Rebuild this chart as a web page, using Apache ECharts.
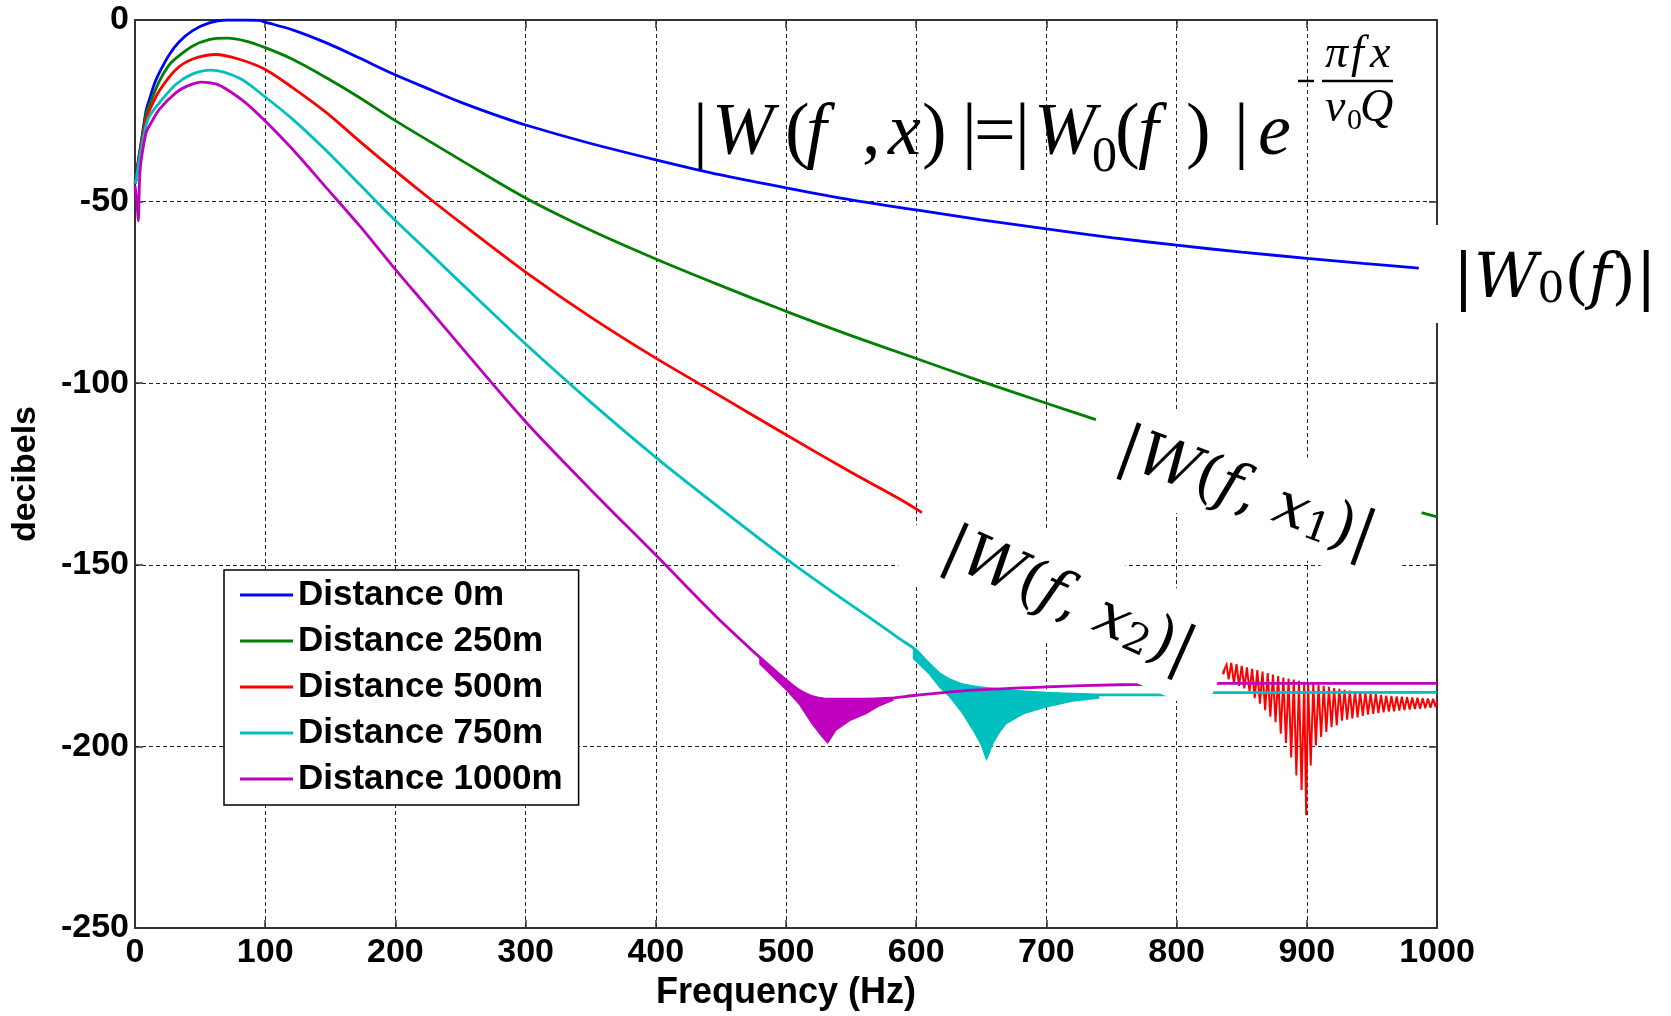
<!DOCTYPE html>
<html>
<head>
<meta charset="utf-8">
<script src="https://cdn.jsdelivr.net/npm/echarts@6/dist/echarts.min.js"></script>
<style>
  html, body { margin: 0; padding: 0; background: #fff; }
  #chart { width: 1671px; height: 1016px; }
</style>
</head>
<body>
<div id="chart"></div>
<script>
// Amplitude spectra of an attenuated wavelet, in dB, at five propagation distances.
// Each array holds [frequency (Hz), level (dB)]; '-' marks a break in the trace.

const seriesNames = ['Distance 0m', 'Distance 250m', 'Distance 500m', 'Distance 750m', 'Distance 1000m'];
const seriesColors = ['#0000FF', '#008000', '#FF0000', '#00BFBF', '#BF00BF'];

const dist0m = [[0,-45],[1,-43],[2,-40],[4.6,-34],[8.5,-25],[11,-22],[15,-17.5],[18.7,-14.5],[26.4,-9.5],[34,-6],[44,-3],[57,-0.8],[70,0],[85,0],[95,-0.1],[100,-0.6],[121,-2.7],[147,-6.3],[172,-10.4],[198,-14.8],[225,-18.9],[250,-22.6],[275,-25.9],[300,-28.9],[350,-34],[400,-38.5],[449,-42.6],[500,-46.2],[550,-49.5],[600,-52.3],[650,-55],[700,-57.5],[750,-59.9],[800,-62],[850,-63.9],[900,-65.6],[943,-67],[986,-68.3]];

const dist250m = [[0,-45],[1,-43.5],[2,-40.5],[4.6,-34.5],[8.5,-26],[11,-23.5],[18.7,-16.8],[26,-12.5],[31.5,-10.5],[44,-7.2],[57,-5.4],[71,-5],[85,-5.8],[100,-7.6],[121,-10.8],[147,-15.9],[172.6,-21.4],[198,-27.3],[250,-38.5],[300,-49],[350,-57.9],[400,-65.8],[449,-73],[500,-80.2],[550,-86.9],[600,-93.2],[650,-99.5],[700,-105.5],[738,-110],[850,'-'],[986,-135.4],[1000,-136.8]];

const dist500m = [[0,-45],[1,-44],[2,-41],[4.6,-35],[8.5,-27.5],[11,-25],[18.7,-19.5],[31.5,-13.6],[44,-10.8],[62,-9.5],[80,-10.8],[100,-13.6],[121,-18.6],[147,-25.5],[172.6,-33.4],[198,-41],[225,-48.8],[250,-55.8],[300,-69.4],[350,-81.8],[400,-93.1],[449,-103.4],[500,-114.2],[550,-124.5],[587,-131.8],[605.8,-135.9]];

// ringing of the 500 m trace above 830 Hz: alternating crest / trough readings
const dist500mTail = [[834,-176.2],[836,-180.1],[838,-176.6],[840,-181.5],[842,-177],[844,-182.5],[846,-177.3],[848,-183.3],[850,-177.8],[852,-184],[854,-178.2],[856,-184.8],[858,-178.6],[860,-186.7],[862,-179],[864,-188.2],[866,-179.4],[868,-190],[870,-179.8],[872,-191.8],[874,-180.2],[876,-193.3],[878,-180.6],[880,-196.5],[882,-181],[884,-199],[886,-181.3],[888,-203],[890,-181.6],[892,-208],[894,-181.9],[896,-212],[898,-182.2],[899.5,-218.9],[901,-182.4],[903,-205.2],[905,-182.7],[907,-199.7],[909,-183],[911,-197.4],[913,-183.3],[915,-196],[917,-183.6],[919,-194.7],[921,-183.9],[923,-194.2],[925,-184.1],[927,-192.9],[929,-184.4],[931,-192.6],[933,-184.6],[935,-192.3],[937,-184.8],[939,-192],[941,-185],[943,-191.6],[945,-185.2],[947,-191.2],[949,-185.4],[951,-191],[953,-185.6],[955,-190.8],[957,-185.8],[959,-190.6],[961,-186],[963,-190.4],[965,-186.1],[967,-190.3],[969,-186.2],[971,-190.1],[973,-186.3],[975,-190],[977,-186.4],[979,-189.8],[981,-186.5],[983,-189.7],[985,-186.6],[987,-189.6],[989,-186.7],[991,-189.5],[993,-186.8],[995,-189.3],[997,-186.9],[999,-189.2],[1000,-187.5]];

const dist750m = [[0,-45],[1,-44],[2,-41.5],[4.6,-36],[8.5,-29],[11,-26.5],[18.7,-22.8],[31.5,-17.7],[44,-14.9],[58,-13.8],[80,-16],[100,-21.2],[121,-27.3],[147,-36],[172.6,-45.3],[198,-54.5],[225,-63.7],[250,-72.3],[300,-89.2],[350,-105.2],[400,-120.4],[449,-134.3],[497,-147.5],[541,-158.8],[567,-165.2],[587,-170.3],[600,-173.5],[618,-180.3],[635,-183],[660,-184.2],[700,-185.3],[750,-185.8],[802,-185.8],[815,'-'],[827,-185.2],[1000,-185.1]];

const dist1000m = [[0,-45.7],[1.5,-50],[2.5,-55.3],[3.5,-44],[4.6,-39],[8.5,-31],[11,-29.2],[18.7,-24.6],[31.5,-20],[40,-18.2],[51,-17.1],[62,-17.6],[70,-19],[85,-22.8],[100,-27.8],[121,-35.6],[147,-46.2],[172.6,-56.7],[198,-67.8],[225,-79.2],[250,-89.8],[300,-110.6],[350,-129.3],[400,-147.3],[450,-165.5],[500,-181.8],[515,-185.5],[530,-187],[560,-187],[580,-186.7],[600,-185.9],[644,-184.5],[700,-183.6],[756,-183],[786,-182.9],[808,'-'],[830,-182.6],[1000,-182.6]];

// noise envelopes around the spectral notches: [frequency, upper dB, lower dB]
const notch750m = [[598,-173.2,-175.8],[610,-177,-180],[618,-179.8,-183.6],[626,-181.5,-186.4],[635,-182.8,-190.5],[644,-183.5,-195.6],[650,-183.8,-199.5],[654,-184,-203.5],[659,-184.2,-199],[664,-184.4,-196],[669,-184.6,-193.7],[682,-185,-191],[700,-185.3,-189.1],[720,-185.6,-187.5],[740,-185.8,-186.7]];
const notch1000m = [[480,-175.8,-177.3],[500,-181.5,-184.3],[510,-184.6,-188.2],[520,-186.2,-193.7],[528,-186.7,-197.4],[532,-187,-199],[538,-187.1,-195.6],[549,-187.1,-192.8],[561,-187,-191],[572,-186.8,-188.7],[582,-186.6,-187.3]];

const SANS = "'Liberation Sans', Arial, sans-serif";
const SERIF = "'Liberation Serif', 'Times New Roman', serif";
const MATH = "'DejaVu Serif', serif";

function lineSeries(i, data, smooth, width) {
  return {
    type: 'line', name: seriesNames[i], data: data,
    color: seriesColors[i], symbol: 'none', showSymbol: false,
    smooth: smooth, connectNulls: false, clip: true, animation: false,
    lineStyle: { width: width, color: seriesColors[i] },
    itemStyle: { color: seriesColors[i] }
  };
}

function notchSeries(name, band, color) {
  return {
    type: 'custom', name: name, data: [[band[0][0], band[0][1]]],
    clip: true, silent: true, animation: false,
    renderItem: function (params, api) {
      const upper = band.map(function (p) { return api.coord([p[0], p[1]]); });
      const lower = band.slice().reverse().map(function (p) { return api.coord([p[0], p[2]]); });
      return { type: 'polygon', shape: { points: upper.concat(lower) },
               style: { fill: color, stroke: color, lineWidth: 1.5 } };
    }
  };
}

// formula glyphs: [text, left x, italic]
const formulaGlyphs = [['|',693,false],['W',712,true],['(',785,false],['f',806,true],[',',862,false],['x',888,true],[')',922,false],['|',962,false],['=',974,false],['|',1015,false],['W',1034,true],['(',1115,false],['f',1138,true],[')',1186,false],['|',1234,false],['e',1258,true]];

function glyph(t, x, baseline, size, italic) {
  return { type: 'text', z: 100, x: x, y: baseline - 0.3375 * size,
    style: { text: t, fill: '#000', align: 'left', verticalAlign: 'middle',
      font: (italic ? 'italic ' : '') + size + 'px ' + SERIF } };
}

function rule(x1, x2, y) {
  return { type: 'line', z: 100, shape: { x1: x1, y1: y, x2: x2, y2: y }, style: { stroke: '#000', lineWidth: 2.5 } };
}

const formula = formulaGlyphs.map(function (g) { return glyph(g[0], g[1], 160, 74, g[2]); });
formula.push(glyph('0', 1092, 175, 50, false));
formula.push(rule(1298, 1314, 81));
formula.push(glyph('\u03C0', 1325, 70, 46, true));
formula.push(glyph('f', 1351, 70, 46, true));
formula.push(glyph('x', 1370, 70, 46, true));
formula.push(rule(1322, 1393, 81));
formula.push(glyph('v', 1325, 124, 46, true));
formula.push(glyph('0', 1347, 131, 30, false));
formula.push(glyph('Q', 1360, 124, 46, true));

const labelRich = function (size) {
  return {
    b: { fontFamily: MATH, fontSize: size, lineHeight: size * 1.1, verticalAlign: 'bottom', fill: '#000' },
    n: { fontFamily: MATH, fontSize: size, lineHeight: size * 1.1, verticalAlign: 'bottom', fill: '#000' },
    i: { fontFamily: MATH, fontStyle: 'italic', fontSize: size, lineHeight: size * 1.1, verticalAlign: 'bottom', fill: '#000' },
    s: { fontFamily: MATH, fontSize: size * 0.68, lineHeight: size * 0.5, verticalAlign: 'bottom', fill: '#000' }
  };
};

function tag(cx, cy, deg, w, h, text, size, dx, dy) {
  return {
    type: 'group', x: cx, y: cy, rotation: -deg * Math.PI / 180, z: 100,
    children: [
      { type: 'rect', z: 100, shape: { x: -w / 2, y: -h / 2, width: w, height: h }, style: { fill: '#fff' } },
      { type: 'text', z: 101, x: dx, y: dy, style: { text: text, rich: labelRich(size), align: 'center', verticalAlign: 'middle' } }
    ]
  };
}

const tags = [
  { type: 'rect', z: 100, shape: { x: 1420, y: 225, width: 251, height: 98 }, style: { fill: '#fff' } },
  { type: 'text', z: 101, x: 1453, y: 278, style: { text: '{b||}{i|W}{s|0}{n|(}{i|f}{n|)}{b||}', rich: labelRich(62), align: 'left', verticalAlign: 'middle' } },
  tag(1252, 489, 20, 335, 97, '{b||}{i|W}{n|(}{i|f}{n|, }{i|x}{s|1}{n|)}{b||}', 60, -4, 4),
  tag(1070, 597, 24, 339, 103, '{b||}{i|W}{n|(}{i|f}{n|, }{i|x}{s|2}{n|)}{b||}', 60, 0, 2)
];

const axisFont = { fontFamily: SANS, fontWeight: 'bold', fontSize: 34, color: '#000' };
const nameFont = { fontFamily: SANS, fontWeight: 'bold', fontSize: 36, color: '#000' };
const frame = { show: true, onZero: false, lineStyle: { color: '#333', width: 2 } };
const ticks = { show: true, inside: true, length: 8, lineStyle: { color: '#333', width: 1.5 } };
const dashed = { show: true, lineStyle: { type: [4, 3], color: '#222', width: 1 } };
const plain = function (v) { return String(v); };

const option = {
  animation: false,
  backgroundColor: '#fff',
  grid: { left: 135, right: 234, top: 20, bottom: 83.5, containLabel: false },
  xAxis: [
    { type: 'value', min: 0, max: 1000, interval: 100, position: 'bottom',
      name: 'Frequency (Hz)', nameLocation: 'middle', nameGap: 46, nameTextStyle: nameFont,
      axisLine: frame, axisTick: ticks, splitLine: dashed,
      axisLabel: Object.assign({ margin: 8, formatter: plain }, axisFont) },
    { type: 'value', min: 0, max: 1000, interval: 100, position: 'top',
      axisLine: frame, axisTick: ticks, splitLine: { show: false }, axisLabel: { show: false } }
  ],
  yAxis: [
    { type: 'value', min: -250, max: 0, interval: 50, position: 'left',
      name: 'decibels', nameLocation: 'middle', nameGap: 92, nameTextStyle: axisFont,
      axisLine: frame, axisTick: ticks, splitLine: dashed,
      axisLabel: Object.assign({ margin: 6, formatter: plain }, axisFont) },
    { type: 'value', min: -250, max: 0, interval: 50, position: 'right',
      axisLine: frame, axisTick: ticks, splitLine: { show: false }, axisLabel: { show: false } }
  ],
  legend: {
    data: seriesNames, orient: 'vertical', left: 224, top: 570,
    icon: 'rect', itemWidth: 53, itemHeight: 3, itemGap: 10,
    padding: [7, 16, 8, 16], backgroundColor: '#fff', borderColor: '#000', borderWidth: 1.5,
    selectedMode: false,
    textStyle: { fontFamily: SANS, fontWeight: 'bold', fontSize: 35, lineHeight: 36, color: '#000' }
  },
  series: [
    lineSeries(0, dist0m, 0.3, 2.8),
    lineSeries(1, dist250m, 0.3, 2.8),
    lineSeries(2, dist500m, 0.3, 2.8),
    lineSeries(2, dist500mTail, false, 2),
    notchSeries('notch750', notch750m, seriesColors[3]),
    lineSeries(3, dist750m, 0.3, 2.8),
    notchSeries('notch1000', notch1000m, seriesColors[4]),
    lineSeries(4, dist1000m, 0.3, 2.8)
  ],
  graphic: formula.concat(tags)
};

const chart = echarts.init(document.getElementById('chart'), null, { renderer: 'canvas' });
chart.setOption(option);
</script>
</body>
</html>
